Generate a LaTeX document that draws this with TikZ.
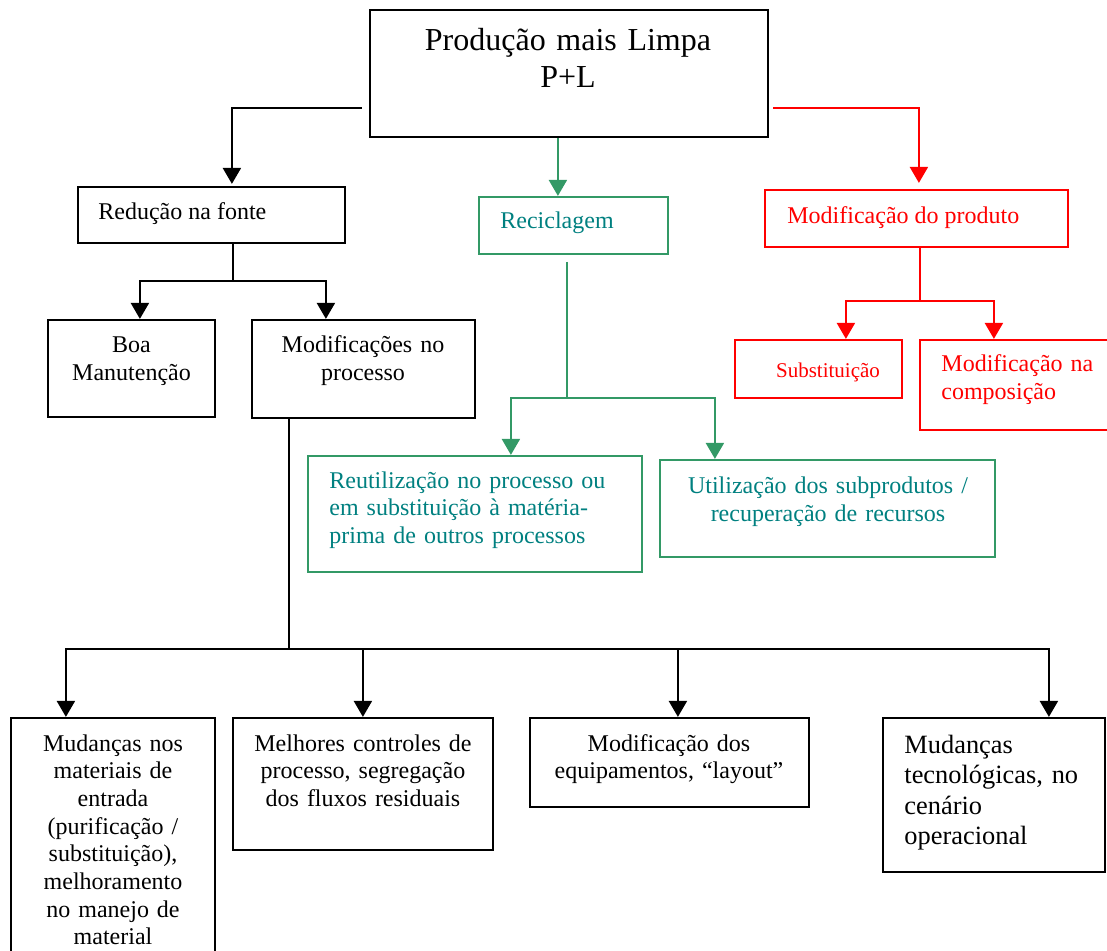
\documentclass[tikz,border=0pt]{standalone}
\usepackage{fontspec}
\setmainfont{Liberation Serif}
\usetikzlibrary{fit,arrows.meta}
\definecolor{lgreen}{RGB}{51,153,102}
\definecolor{tgreen}{RGB}{0,128,128}
\definecolor{pred}{RGB}{255,0,0}
\begin{document}
\begin{tikzpicture}[x=0.5pt,y=-0.5pt,
  box/.style={draw, line width=1.1pt, inner sep=0pt, rectangle},
  gbox/.style={box, draw=lgreen},
  rbox/.style={box, draw=pred},
  conn/.style={line width=1.1pt},
  gline/.style={conn, color=lgreen},
  rline/.style={conn, color=pred},
  arr/.style={conn, -{Triangle[width=9pt,length=8pt]}},
  garr/.style={arr, color=lgreen},
  rarr/.style={arr, color=pred},
  txt/.style={inner sep=0pt, font=\fontsize{12}{13.85}\selectfont}
]
\useasboundingbox (0,0) rectangle (1107,951);

% boxes
\node[box, fit={(370,10)(768,137)}] (title) {};
\node[box, fit={(78,187)(345,243)}] (reducao) {};
\node[box, fit={(48,320)(215,417)}] (boa) {};
\node[box, fit={(252,320)(475,418)}] (modproc) {};
\node[gbox, fit={(479,197)(668,254)}] (recic) {};
\node[rbox, fit={(765,190)(1068,247)}] (modprod) {};
\node[rbox, fit={(735,340)(902,398)}] (subst) {};
\node[rbox, fit={(920,340)(1125,430)}] (modcomp) {};
\node[gbox, fit={(308,456)(642,572)}] (reut) {};
\node[gbox, fit={(660,460)(995,557)}] (util) {};
\node[box, fit={(11,718)(215,975)}] (b1) {};
\node[box, fit={(233,718)(493,850)}] (b2) {};
\node[box, fit={(530,718)(809,807)}] (b3) {};
\node[box, fit={(883,718)(1105,872)}] (b4) {};

% texts
\node[txt, anchor=base, text width=200pt, align=center, font=\fontsize{16}{18.5}\selectfont] (ttitle) at (568,51) {Produção mais Limpa\\P+L};
\node[txt, anchor=base west] (treducao) at (98,220) {Redução na fonte};
\node[txt, anchor=base, text width=80pt, align=center] (tboa) at (131.5,353) {Boa\\Manutenção};
\node[txt, anchor=base, text width=110pt, align=center] (tmodproc) at (363,353) {Modificações no\\processo};
\node[txt, anchor=base west, text=tgreen] (trecic) at (500,229) {Reciclagem};
\node[txt, anchor=base west, text=pred] (tmodprod) at (787,224) {Modificação do produto};
\node[txt, anchor=base, text=pred, font=\fontsize{10.5}{12}\selectfont] (tsubst) at (828,378) {Substituição};
\node[txt, anchor=base west, text width=90pt, align=left, text=pred] (tmodcomp) at (941,372) {Modificação na\\composição};
\node[txt, anchor=base west, text width=146pt, align=left, text=tgreen] (treut) at (329,488) {\makebox[146pt][s]{Reutilização no processo ou}\\\makebox[146pt][s]{em substituição à matéria-}\\prima de outros processos};
\node[txt, anchor=base, text width=160pt, align=center, text=tgreen] (tutil) at (828,494) {Utilização dos subprodutos /\\recuperação de recursos};
\node[txt, anchor=base, text width=100pt, align=center] (tb1) at (113,751) {Mudanças nos\\materiais de\\entrada\\(purificação /\\substituição),\\melhoramento\\no manejo de\\material};
\node[txt, anchor=base, text width=125pt, align=center] (tb2) at (363,751) {Melhores controles de\\processo, segregação\\dos fluxos residuais};
\node[txt, anchor=base, text width=135pt, align=center] (tb3) at (669,751) {Modificação dos\\equipamentos, “layout”};
\node[txt, anchor=base west, text width=91pt, align=left, font=\fontsize{13.2}{15.3}\selectfont] (tb4) at (904,753) {Mudanças\\\makebox[91pt][s]{tecnológicas, no}\\cenário\\operacional};

% black connectors
\coordinate (k0) at ([xshift=-3.5pt,yshift=15pt]title.south west);
\draw[arr] (k0) -| ([xshift=77.5pt,yshift=1pt]reducao.north west);
\coordinate (jr) at (233,281);
\draw[conn] (jr |- reducao.south) -- (jr);
\draw[arr] (jr) -| ([xshift=46.5pt]boa.north west);
\draw[arr] (jr) -| ([xshift=37.5pt]modproc.north west);
\coordinate (jm) at (289,649);
\draw[conn] (jm |- modproc.south) -- (jm);
\draw[arr] (jm) -| ([xshift=28pt]b1.north west);
\draw[arr] (jm) -| ([xshift=65.5pt]b2.north west);
\draw[arr] (jm) -| ([xshift=74.5pt]b3.north west);
\draw[arr] (jm) -| ([xshift=83.5pt]b4.north west);

% green connectors
\coordinate (g0) at ([xshift=94.5pt]title.south west);
\draw[garr] (g0) -- (g0 |- recic.north);
\coordinate (gs) at (567,262);
\coordinate (jg) at (567,398);
\draw[gline] (gs) -- (jg);
\draw[garr] (jg) -| ([xshift=102pt]reut.north west);
\draw[garr] (jg) -| ([xshift=28pt]util.north west);

% red connectors
\coordinate (r0) at ([xshift=2pt,yshift=15pt]title.south east);
\draw[rarr] (r0) -| ([xshift=77.5pt,yshift=3pt]modprod.north west);
\coordinate (jp) at (920,301);
\draw[rline] (jp |- modprod.south) -- (jp);
\draw[rarr] (jp) -| ([xshift=56pt]subst.north west);
\draw[rarr] (jp) -| ([xshift=37.5pt]modcomp.north west);
\end{tikzpicture}
\end{document}
